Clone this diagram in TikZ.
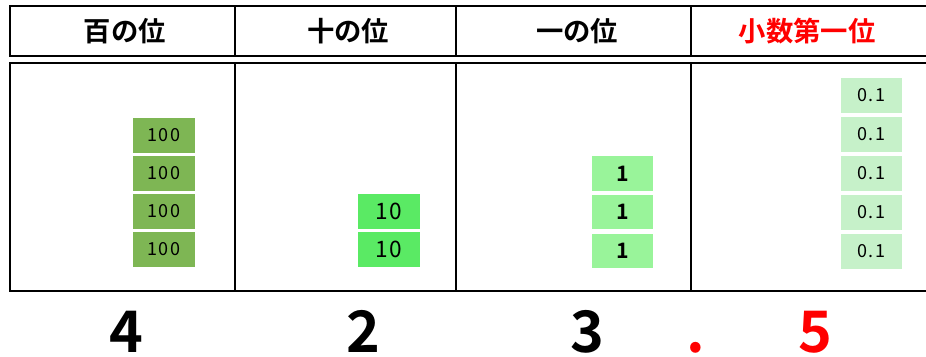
\documentclass[tikz,border=0pt]{standalone}
\usepackage{fontspec}
\setmainfont{Noto Sans CJK JP}
\newfontfamily\jpb{Noto Sans CJK JP Bold}
\newfontfamily\jpw{Noto Sans CJK JP}[LetterSpace=8]
\begin{document}
\begin{tikzpicture}[x=0.75pt,y=-0.75pt,
  frame/.style={line width=1.9pt,draw=black},
  divider/.style={line width=1.1pt,draw=black},
  head/.style={font=\jpb\fontsize{20.5pt}{22pt}\selectfont,anchor=center,inner sep=0pt},
  block/.style={draw=white,line width=0.8pt,minimum width=47pt,minimum height=26.5pt,inner sep=0pt,font=\jpw\fontsize{13.5pt}{14pt}\selectfont},
  hundred/.style={block,fill=c100},
  ten/.style={block,fill=c10,font=\jpw\fontsize{17pt}{18pt}\selectfont},
  one/.style={block,fill=c1,font=\jpb\fontsize{16pt}{17pt}\selectfont},
  tenth/.style={block,fill=c01},
  digit/.style={font=\jpb\fontsize{43pt}{45pt}\selectfont,inner sep=0pt,anchor=base}]
\definecolor{c100}{RGB}{126,182,84}
\definecolor{c10}{RGB}{90,234,100}
\definecolor{c1}{RGB}{153,244,154}
\definecolor{c01}{RGB}{198,241,201}
\definecolor{redtxt}{RGB}{255,0,0}
\useasboundingbox (0,0) rectangle (926,357);
% header row
\draw[frame] (10,6) rectangle (945,56);
\draw[divider] (235,6) -- (235,56) (456,6) -- (456,56) (691,6) -- (691,56);
% body row
\draw[frame] (10,63) rectangle (945,291);
\draw[divider] (235,63) -- (235,291) (456,63) -- (456,291) (691,63) -- (691,291);
% headers
\node[head] (h1) at (125,31) {百の位};
\node[head] (h2) at (348,31) {十の位};
\node[head] (h3) at (577,31) {一の位};
\node[head,text=redtxt] (h4) at (807,31) {小数第一位};
% hundreds
\node[hundred] (a1) at (164,135.5) {100};
\node[hundred] (a2) at (164,173.5) {100};
\node[hundred] (a3) at (164,211.5) {100};
\node[hundred] (a4) at (164,249.5) {100};
% tens
\node[ten] (b1) at (389,211.5) {10};
\node[ten] (b2) at (389,249.5) {10};
% ones
\node[one] (o1) at (622.5,173.5) {1};
\node[one] (o2) at (622.5,212) {1};
\node[one] (o3) at (622.5,251) {1};
% tenths
\node[tenth] (t1) at (871.5,95.5) {0.1};
\node[tenth] (t2) at (871.5,134.5) {0.1};
\node[tenth] (t3) at (871.5,173.5) {0.1};
\node[tenth] (t4) at (871.5,212.5) {0.1};
\node[tenth] (t5) at (871.5,251.5) {0.1};
% digits
\node[digit] (d1) at (126,352) {4};
\node[digit] (d2) at (363,352) {2};
\node[digit] (d3) at (587,352) {3};
\node[digit,text=redtxt] (dp) at (696,352) {.};
\node[digit,text=redtxt] (d4) at (815,352) {5};
\end{tikzpicture}
\end{document}
